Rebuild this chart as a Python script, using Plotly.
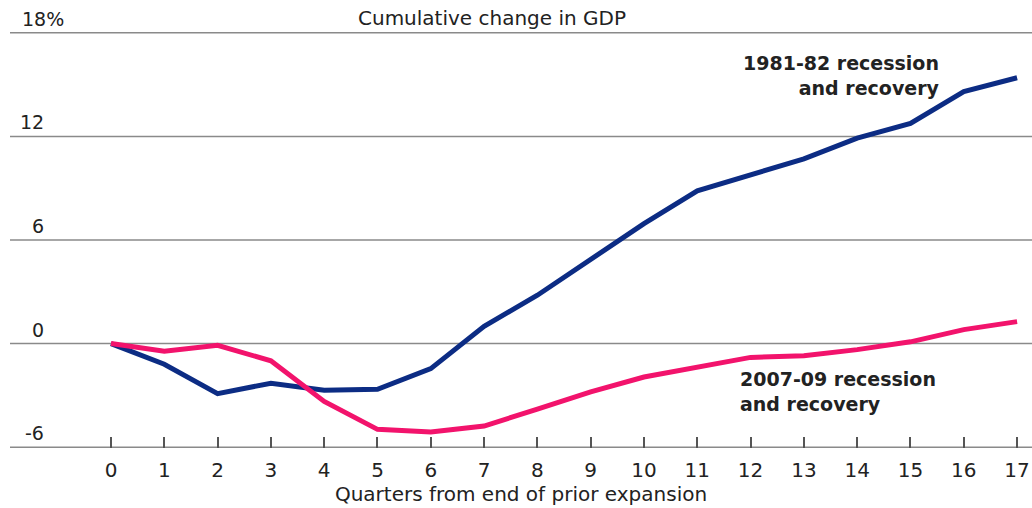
import plotly.graph_objects as go

quarters = list(range(0, 18))
gdp_1981_82 = [0, -1.2, -2.9, -2.3, -2.7, -2.65, -1.45, 1.0, 2.8, 4.9, 6.95,
               8.85, 9.8, 10.7, 11.9, 12.75, 14.6, 15.4]
gdp_2007_09 = [0, -0.45, -0.1, -1.0, -3.35, -4.97, -5.12, -4.78, -3.8, -2.8,
               -1.94, -1.35, -0.8, -0.7, -0.35, 0.1, 0.81, 1.27]
y_ticks = [-6, 0, 6, 12, 18]
y_tick_labels = ["-6", "0", "6", "12", "18"]

FONT = "DejaVu Sans"
TXT = "#222222"

fig = go.Figure()
fig.add_trace(go.Scatter(x=quarters, y=gdp_1981_82, mode="lines",
                         line=dict(color="#0c2c84", width=5), hoverinfo="skip"))
fig.add_trace(go.Scatter(x=quarters, y=gdp_2007_09, mode="lines",
                         line=dict(color="#f2136c", width=5), hoverinfo="skip"))

shapes = []
for v in y_ticks:
    shapes.append(dict(type="line", xref="paper", yref="y", x0=0, x1=1, y0=v, y1=v,
                       line=dict(color="#8a8a8a", width=1.5), layer="below"))

annotations = []
for v, lab in zip(y_ticks, y_tick_labels):
    if v == 18:
        annotations.append(dict(x=-1.71, y=v, xref="x", yref="y", text="18%",
                                showarrow=False, xanchor="left", yanchor="bottom",
                                yshift=1, font=dict(family=FONT, size=19, color=TXT)))
    else:
        annotations.append(dict(x=-1.22, y=v, xref="x", yref="y", text=lab,
                                showarrow=False, xanchor="right", yanchor="bottom",
                                yshift=1, font=dict(family=FONT, size=19, color=TXT)))

annotations.append(dict(x=7.15, y=18, xref="x", yref="y", text="Cumulative change in GDP",
                        showarrow=False, xanchor="center", yanchor="bottom", yshift=1,
                        font=dict(family=FONT, size=20, color=TXT)))
annotations.append(dict(x=15.59, y=15.55, xref="x", yref="y",
                        text="<b>1981-82 recession<br>and recovery</b>",
                        showarrow=False, xanchor="right", yanchor="middle", align="right",
                        font=dict(family=FONT, size=19, color=TXT)))
annotations.append(dict(x=11.77, y=-2.77, xref="x", yref="y",
                        text="<b>2007-09 recession<br>and recovery</b>",
                        showarrow=False, xanchor="left", yanchor="middle", align="left",
                        font=dict(family=FONT, size=19, color=TXT)))

fig.update_layout(
    width=1032, height=508,
    margin=dict(l=10, r=0, t=32, b=60),
    paper_bgcolor="white", plot_bgcolor="white",
    showlegend=False,
    shapes=shapes,
    annotations=annotations,
    xaxis=dict(range=[-1.895, 17.28], tickvals=quarters, ticktext=[str(q) for q in quarters],
               ticks="inside", ticklen=11, tickwidth=1.5, tickcolor="#555555",
               ticklabelstandoff=8,
               showgrid=False, zeroline=False, showline=False,
               tickfont=dict(family=FONT, size=20, color=TXT),
               title=dict(text="Quarters from end of prior expansion", standoff=0,
                          font=dict(family=FONT, size=20, color=TXT))),
    yaxis=dict(range=[-6.05, 18.05], tickvals=y_ticks, showticklabels=False,
               showgrid=False, zeroline=False, showline=False, ticks=""),
)

fig.write_html("out.html")
